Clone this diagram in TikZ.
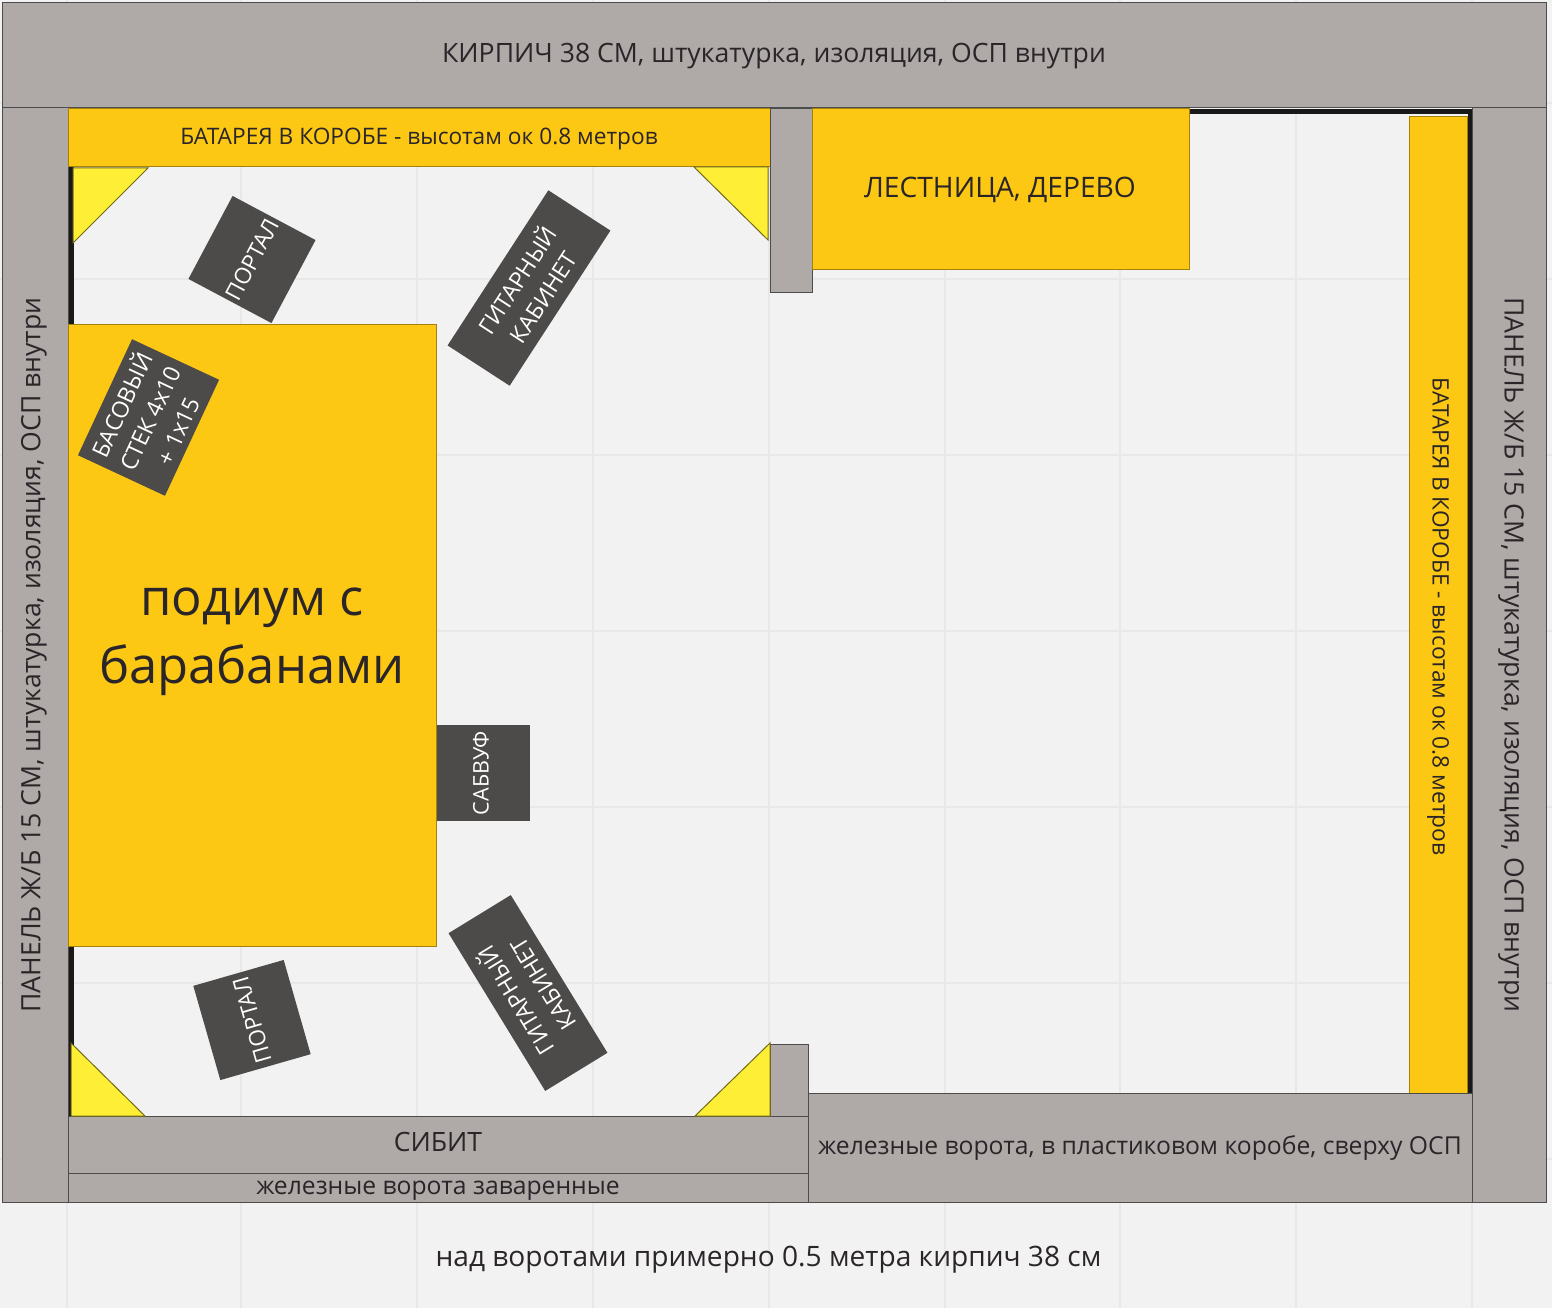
\documentclass[tikz,border=0pt]{standalone}
\usepackage{fontspec}
\setmainfont{Open Sans}
\usepackage{xcolor}
\definecolor{paper}{HTML}{F2F2F3}
\definecolor{gridline}{HTML}{E8E8E8}
\definecolor{wallgray}{HTML}{AFAAA8}
\definecolor{boxyellow}{HTML}{FCC813}
\definecolor{cornerfill}{HTML}{FEEE35}
\definecolor{cabinet}{HTML}{4D4A4A}
\definecolor{inktext}{HTML}{2A2528}
\tikzset{
	wall/.style={fill=wallgray,draw=black!70,line width=1pt},
	warm/.style={fill=boxyellow,draw=boxyellow!65!black,line width=1pt},
	corner/.style={fill=cornerfill,draw=cornerfill!45!black,line width=1pt},
	cab/.style={fill=cabinet,text=white,align=center,inner sep=0pt,font=\fontsize{23}{31}\selectfont},
	label/.style={text=inktext,align=center,inner sep=0pt,font=\fontsize{26.6}{32}\selectfont},
	smalllabel/.style={text=inktext,align=center,inner sep=0pt,font=\fontsize{22.7}{26}\selectfont},
}
\begin{document}
\begin{tikzpicture}[x=1pt,y=-1pt]
	\fill[paper] (0,0) rectangle (1552,1308);
	\useasboundingbox (0,0) rectangle (1552,1308);
	\foreach \gx in {67,241,417,593,769,945,1120,1296,1472}
		\draw[gridline,line width=2pt] (\gx,0) -- (\gx,1308);
	\foreach \gy in {103,279,455,631,807,983,1159}
		\draw[gridline,line width=2pt] (0,\gy) -- (1552,\gy);
	
	\draw[line width=5pt,black!90] (71,167) -- (71,1116);
	\draw[line width=5pt,black!90] (1190,111.5) -- (1470,111.5) -- (1470,1093);
	
	\draw[wall] (2,3) rectangle (1546,108);
	\draw[wall] (2,108) rectangle (68,1202);
	\draw[wall] (1472,108) rectangle (1546,1202);
	\draw[warm] (68,109) rectangle (770,167);
	\draw[wall] (770,109) rectangle (812,292);
	\draw[warm] (812,109) rectangle (1189.5,269);
	\draw[warm] (1409,117) rectangle (1467,1093);
	\draw[warm] (68,324) rectangle (436.5,946);
	\draw[wall] (770,1044) rectangle (808,1116);
	\draw[wall] (68,1116) rectangle (808,1173);
	\draw[wall] (68,1173) rectangle (808,1202);
	\draw[wall] (808,1093) rectangle (1472,1202);
	
	\draw[corner] (73,168) -- (148,168) -- (73,243) -- cycle;
	\draw[corner] (694,167) -- (768,167) -- (768,240) -- cycle;
	\draw[corner] (71,1043) -- (145,1116) -- (71,1116) -- cycle;
	\draw[corner] (770,1043) -- (770,1116) -- (695,1116) -- cycle;
	
	\node[cab,font=\fontsize{22.5}{26}\selectfont,minimum width=94pt,minimum height=94pt,rotate=62] (portal top) at (252,259.5) {ПОРТАЛ};
	\node[cab,minimum width=185pt,minimum height=74pt,rotate=57] (guitar top) at (529,288) {ГИТАРНЫЙ\\КАБИНЕТ};
	\node[cab,minimum width=128pt,minimum height=96pt,rotate=65] (bass stack) at (148.5,417.5) {БАСОВЫЙ\\СТЕК 4x10\\+ 1x15};
	\node[cab,minimum width=96pt,minimum height=93pt,rotate=90] (sub) at (483,773) {};
	\node[text=white,inner sep=0pt,font=\fontsize{21.5}{26}\selectfont,rotate=90] (sub label) at (481,773) {САБВУФ};
	\node[cab,font=\fontsize{22.5}{26}\selectfont,minimum width=98pt,minimum height=94pt,rotate=106] (portal bottom) at (252,1020) {ПОРТАЛ};
	\node[cab,minimum width=185pt,minimum height=73pt,rotate=121.5] (guitar bottom) at (528,993) {ГИТАРНЫЙ\\КАБИНЕТ};
	
	\node[label] (brick) at (774,56) {КИРПИЧ 38 СМ, штукатурка, изоляция, ОСП внутри};
	\node[label,rotate=90] (panel left) at (34,655) {ПАНЕЛЬ Ж/Б 15 СМ, штукатурка, изоляция, ОСП внутри};
	\node[label,rotate=-90] (panel right) at (1511,655) {ПАНЕЛЬ Ж/Б 15 СМ, штукатурка, изоляция, ОСП внутри};
	\node[smalllabel] (radiator top) at (419,139) {БАТАРЕЯ В КОРОБЕ - высотам ок 0.8 метров};
	\node[smalllabel,rotate=-90] (radiator right) at (1438,616.5) {БАТАРЕЯ В КОРОБЕ - высотам ок 0.8 метров};
	\node[label,font=\fontsize{28.2}{32}\selectfont] (stairs) at (1000,189.5) {ЛЕСТНИЦА, ДЕРЕВО};
	\node[text=inktext,align=center,inner sep=0pt,font=\fontsize{50.7}{68}\selectfont] (podium) at (252,642) {подиум с\\барабанами};
	\node[label] (sibit) at (438,1142) {СИБИТ};
	\node[smalllabel,font=\fontsize{24.7}{28}\selectfont] (welded) at (438,1191) {железные ворота заваренные};
	\node[smalllabel,font=\fontsize{24.7}{28}\selectfont] (gates) at (1140,1148) {железные ворота, в пластиковом коробе, сверху ОСП};
	\node[label,font=\fontsize{28.1}{32}\selectfont] (above gates) at (768.5,1260) {над воротами примерно 0.5 метра кирпич 38 см};
\end{tikzpicture}
\end{document}
